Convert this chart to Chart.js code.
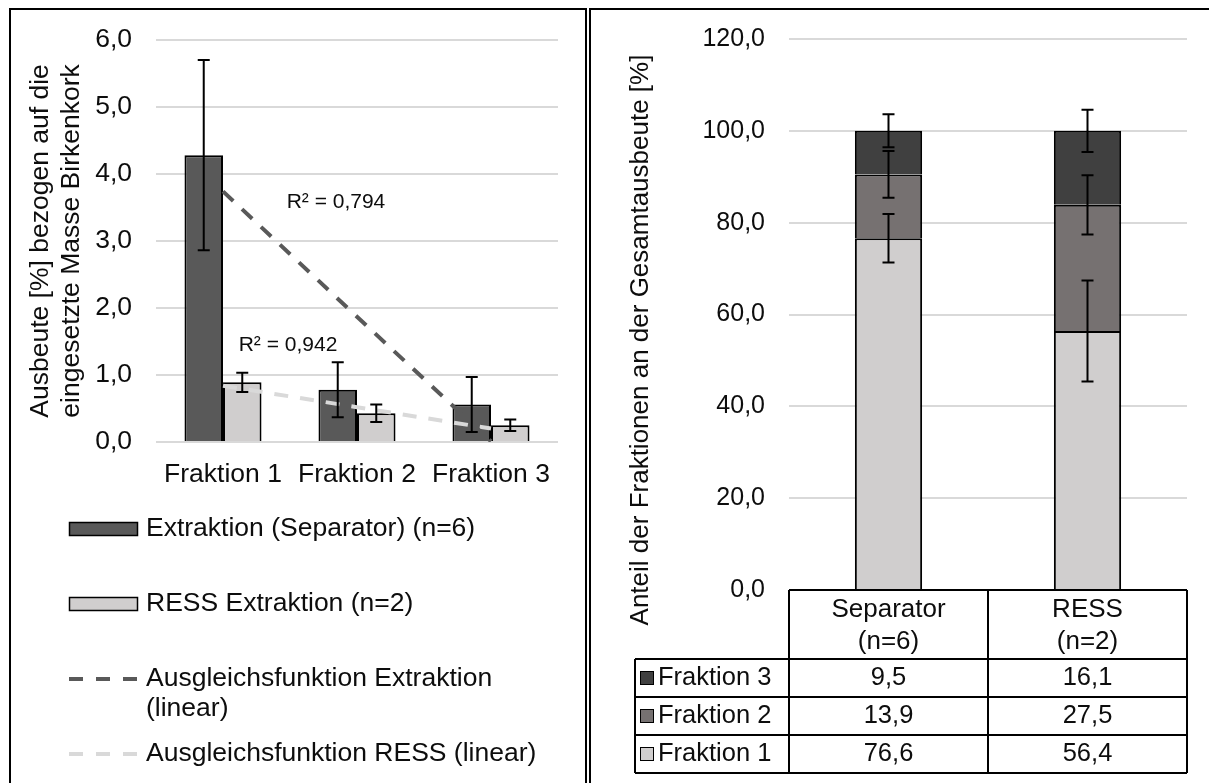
<!DOCTYPE html>
<html>
<head>
<meta charset="utf-8">
<script src="https://cdn.jsdelivr.net/npm/chart.js@4.4.1/dist/chart.umd.min.js"></script>
<style>
  html, body { margin: 0; padding: 0; background: #fff; }
  body { width: 1209px; height: 783px; position: relative; overflow: hidden; }
  #leftBox { position: absolute; left: 0; top: 0; width: 585px; height: 783px; }
  #rightBox { position: absolute; left: 591px; top: 0; width: 618px; height: 783px; }
  .line { position: absolute; background: #000; }
</style>
</head>
<body>
<div id="leftBox"><canvas id="chartLeft"></canvas></div>
<div id="rightBox"><canvas id="chartRight"></canvas></div>
<!-- panel frames -->
<div class="line" style="left:9px; top:8px; width:578px; height:2px;"></div>
<div class="line" style="left:9px; top:8px; width:2px; height:775px;"></div>
<div class="line" style="left:585px; top:8px; width:2px; height:775px;"></div>
<div class="line" style="left:589px; top:8px; width:620px; height:2px;"></div>
<div class="line" style="left:589px; top:8px; width:2px; height:775px;"></div>

<script>
// left chart: yield per fraction
const fractions = ['Fraktion 1', 'Fraktion 2', 'Fraktion 3'];
const yieldSeparator = [4.28, 0.78, 0.56];
const errSeparator = [1.42, 0.41, 0.41];
const yieldRess = [0.89, 0.43, 0.25];
const errRess = [0.145, 0.13, 0.085];
const trendSeparator = [3.74, 1.87, 0.01];
const trendRess = [0.84, 0.52, 0.20];
const r2Texts = ['R² = 0,794', 'R² = 0,942'];
const leftLegend = [
  ['Extraktion (Separator) (n=6)'],
  ['RESS Extraktion (n=2)'],
  ['Ausgleichsfunktion Extraktion', '(linear)'],
  ['Ausgleichsfunktion RESS (linear)']
];

// right chart: share of fractions
const methods = [['Separator', '(n=6)'], ['RESS', '(n=2)']];
const shareF1 = [76.6, 56.4];
const errF1 = [5.3, 11.0];
const shareF2 = [13.9, 27.5];
const errF2 = [5.1, 6.45];
const shareF3 = [9.5, 16.1];
const errF3 = [3.6, 4.6];

const FONT = '"Liberation Sans", Arial, sans-serif';
const TXT = '#0d0d0d';
Chart.defaults.font.family = FONT;
Chart.defaults.color = TXT;

const fmt = v => v.toFixed(1).replace('.', ',');

const errorBars = {
  id: 'errorBars',
  afterDatasetsDraw(chart) {
    const ctx = chart.ctx, y = chart.scales.y;
    chart.data.datasets.forEach((ds, i) => {
      if (!ds.errors) return;
      chart.getDatasetMeta(i).data.forEach((bar, j) => {
        const v = y.getValueForPixel(bar.y);
        const hi = y.getPixelForValue(v + ds.errors[j]);
        const lo = y.getPixelForValue(v - ds.errors[j]);
        ctx.save();
        ctx.strokeStyle = '#000';
        ctx.lineWidth = 2;
        ctx.beginPath();
        ctx.moveTo(bar.x, hi); ctx.lineTo(bar.x, lo);
        ctx.moveTo(bar.x - 6, hi); ctx.lineTo(bar.x + 6, hi);
        ctx.moveTo(bar.x - 6, lo); ctx.lineTo(bar.x + 6, lo);
        ctx.stroke();
        ctx.restore();
      });
    });
  }
};

const r2Labels = {
  id: 'r2Labels',
  afterDatasetsDraw(chart) {
    const ctx = chart.ctx, x = chart.scales.x, y = chart.scales.y;
    const spots = [[0.843, 3.58], [0.485, 1.445]];
    ctx.save();
    ctx.font = '21px ' + FONT;
    ctx.fillStyle = TXT;
    ctx.textAlign = 'center';
    ctx.textBaseline = 'middle';
    r2Texts.forEach((t, i) => {
      ctx.fillText(t, x.getPixelForValue(spots[i][0]), y.getPixelForValue(spots[i][1]));
    });
    ctx.restore();
  }
};

const sideLegend = {
  id: 'sideLegend',
  afterDraw(chart) {
    const ctx = chart.ctx;
    const order = [2, 3, 0, 1];
    const rowY = [529, 604, 679, 754];
    ctx.save();
    ctx.font = '26.5px ' + FONT;
    ctx.textBaseline = 'middle';
    ctx.textAlign = 'left';
    order.forEach((di, k) => {
      const ds = chart.data.datasets[di];
      const yy = rowY[k];
      if (ds.type === 'line') {
        ctx.strokeStyle = ds.borderColor;
        ctx.lineWidth = 4;
        ctx.setLineDash([14, 13]);
        ctx.beginPath();
        ctx.moveTo(69, yy); ctx.lineTo(139, yy);
        ctx.stroke();
        ctx.setLineDash([]);
      } else {
        ctx.fillStyle = ds.backgroundColor;
        ctx.fillRect(69, yy - 7, 69, 14);
        ctx.strokeStyle = '#000';
        ctx.lineWidth = 1.5;
        ctx.strokeRect(69.5, yy - 6.5, 68, 13);
      }
      ctx.fillStyle = TXT;
      leftLegend[k].forEach((line, n) => ctx.fillText(line, 146, yy + n * 30));
    });
    ctx.restore();
  }
};

new Chart(document.getElementById('chartLeft'), {
  type: 'bar',
  data: {
    labels: fractions,
    datasets: [
      { type: 'line', label: leftLegend[2].join(' '), data: trendSeparator, borderColor: '#595959',
        borderWidth: 4, borderDash: [14, 12], pointRadius: 0, fill: false, order: 0 },
      { type: 'line', label: leftLegend[3][0], data: trendRess, borderColor: '#d9d9d9',
        borderWidth: 4, borderDash: [14, 12], pointRadius: 0, fill: false, order: 0 },
      { label: leftLegend[0][0], data: yieldSeparator, errors: errSeparator, backgroundColor: '#595959',
        borderColor: '#000', borderWidth: 2, order: 1 },
      { label: leftLegend[1][0], data: yieldRess, errors: errRess, backgroundColor: '#d0cece',
        borderColor: '#000', borderWidth: 2, order: 1 }
    ]
  },
  options: {
    responsive: true,
    maintainAspectRatio: false,
    devicePixelRatio: 1,
    animation: false,
    categoryPercentage: 0.575,
    barPercentage: 1,
    layout: { padding: { left: 0, top: 38, right: 27, bottom: 0 } },
    plugins: { legend: { display: false }, tooltip: { enabled: false } },
    scales: {
      x: {
        grid: { display: false, drawTicks: false },
        border: { display: false },
        ticks: { font: { size: 26.5 }, padding: 17, maxRotation: 0, autoSkip: false },
        afterFit: s => { s.height = 341; }
      },
      y: {
        min: 0, max: 6,
        grid: { color: '#d9d9d9', lineWidth: 2, drawTicks: false },
        border: { display: false },
        ticks: { stepSize: 1, font: { size: 26.5 }, padding: 24, callback: v => fmt(v) },
        title: { display: true, text: ['Ausbeute [%] bezogen auf die', 'eingesetzte Masse Birkenkork'],
                 font: { size: 26.5, lineHeight: 1.155 }, padding: { top: 25.7, bottom: 0 } },
        afterFit: s => { s.width = 156; }
      }
    }
  },
  plugins: [errorBars, r2Labels, sideLegend]
});

const rightTitle = {
  id: 'rightTitle',
  afterDraw(chart) {
    const ctx = chart.ctx;
    ctx.save();
    ctx.translate(50, 340);
    ctx.rotate(-Math.PI / 2);
    ctx.font = '26px ' + FONT;
    ctx.fillStyle = TXT;
    ctx.textAlign = 'center';
    ctx.textBaseline = 'middle';
    ctx.fillText('Anteil der Fraktionen an der Gesamtausbeute [%]', 0, 0);
    ctx.restore();
  }
};

const dataTable = {
  id: 'dataTable',
  afterDraw(chart) {
    const ctx = chart.ctx, a = chart.chartArea, x = chart.scales.x;
    const n = chart.data.labels.length;
    const catW = (a.right - a.left) / n;
    const top = a.bottom, headBottom = top + 69, rowH = 38;
    const tableLeft = a.left - 154;
    const rows = chart.data.datasets.slice().reverse();
    const bottom = headBottom + rows.length * rowH;
    ctx.save();
    ctx.strokeStyle = '#000';
    ctx.lineWidth = 2;
    ctx.beginPath();
    ctx.moveTo(a.left, top); ctx.lineTo(a.right, top);
    for (let r = 0; r <= rows.length; r++) {
      ctx.moveTo(tableLeft, headBottom + r * rowH); ctx.lineTo(a.right, headBottom + r * rowH);
    }
    ctx.moveTo(tableLeft, headBottom); ctx.lineTo(tableLeft, bottom);
    for (let c = 0; c <= n; c++) {
      ctx.moveTo(a.left + c * catW, top); ctx.lineTo(a.left + c * catW, bottom);
    }
    ctx.stroke();
    ctx.font = '25.5px ' + FONT;
    ctx.textBaseline = 'middle';
    rows.forEach((ds, r) => {
      const cy = headBottom + r * rowH + rowH / 2;
      ctx.fillStyle = ds.backgroundColor;
      ctx.fillRect(tableLeft + 5, cy - 7, 14, 14);
      ctx.lineWidth = 1;
      ctx.strokeRect(tableLeft + 5.5, cy - 6.5, 13, 13);
      ctx.fillStyle = TXT;
      ctx.textAlign = 'left';
      ctx.fillText(ds.label, tableLeft + 23, cy);
      ctx.textAlign = 'center';
      ds.data.forEach((v, i) => ctx.fillText(fmt(v), x.getPixelForValue(i), cy));
    });
    ctx.restore();
  }
};

new Chart(document.getElementById('chartRight'), {
  type: 'bar',
  data: {
    labels: methods,
    datasets: [
      { label: 'Fraktion 1', data: shareF1, errors: errF1, backgroundColor: '#d0cece', borderColor: '#000', borderWidth: 2 },
      { label: 'Fraktion 2', data: shareF2, errors: errF2, backgroundColor: '#767171', borderColor: '#000', borderWidth: 2 },
      { label: 'Fraktion 3', data: shareF3, errors: errF3, backgroundColor: '#404040', borderColor: '#000', borderWidth: 2 }
    ]
  },
  options: {
    responsive: true,
    maintainAspectRatio: false,
    devicePixelRatio: 1,
    animation: false,
    categoryPercentage: 1,
    barPercentage: 0.338,
    layout: { padding: { left: 0, top: 38, right: 22, bottom: 0 } },
    plugins: { legend: { display: false }, tooltip: { enabled: false } },
    scales: {
      x: {
        stacked: true,
        grid: { display: false, drawTicks: false },
        border: { display: false },
        ticks: { font: { size: 26, lineHeight: 1.22 }, padding: 4, maxRotation: 0, autoSkip: false },
        afterFit: s => { s.height = 193; }
      },
      y: {
        stacked: true,
        min: 0, max: 120,
        grid: { color: '#d9d9d9', lineWidth: 2, drawTicks: false },
        border: { display: false },
        ticks: { stepSize: 20, font: { size: 25 }, padding: 24, callback: v => fmt(v) },
        afterFit: s => { s.width = 198; }
      }
    }
  },
  plugins: [errorBars, rightTitle, dataTable]
});
</script>
</body>
</html>
